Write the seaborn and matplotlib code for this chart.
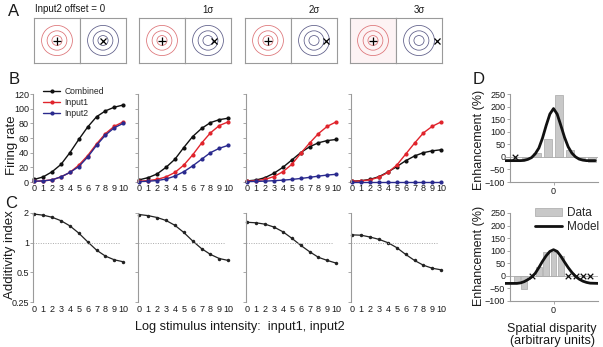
import numpy as np
import pandas as pd
import seaborn as sns
import matplotlib.pyplot as plt
from matplotlib.patches import Circle, Patch
from matplotlib.lines import Line2D
from matplotlib.ticker import NullLocator

# ---- data ----
intensity = list(range(11))
offsets = [0, 1, 2, 3]
offset_titles = ['Input2 offset = 0', '1σ', '2σ', '3σ']

# B: firing rate per offset
comb_0 = [3.5, 7, 14, 24, 40, 58, 75, 89, 97, 102, 105]
in1_0 = [1, 1.5, 3, 7, 13, 23, 36, 52, 66, 76, 82]
in2_0 = [1, 1.5, 3, 7, 13, 21, 34, 50, 64, 74, 80]

comb_1 = [3, 6, 11, 20, 31, 47, 62, 73, 81, 85, 87]
in1_1 = [1, 2, 3.5, 7, 13, 23, 37, 53, 67, 77, 82]
in2_1 = [0.5, 1, 2, 4, 8, 14, 22, 31, 40, 46, 50]

comb_2 = [1.5, 2.7, 6, 12, 20, 30, 40, 48, 53.5, 56.5, 58]
in1_2 = [1, 1.8, 3.5, 7.5, 14, 24, 39, 53, 66, 76, 82]
in2_2 = [0.5, 0.8, 1.2, 1.8, 2.5, 3.5, 4.8, 6.3, 8, 9.5, 10.5]

comb_3 = [1, 1.8, 3.6, 7.3, 13.6, 21, 29, 35.5, 40, 42.5, 44]
in1_3 = [1, 1.5, 3, 6.5, 13, 23, 38, 53, 67, 76, 82]
in2_3 = [0.5, 0.5, 0.5, 0.5, 0.5, 0.5, 0.5, 0.5, 0.5, 0.5, 0.5]

# C: additivity index per offset
add_0 = [1.95, 1.90, 1.81, 1.67, 1.48, 1.25, 1.02, 0.84, 0.73, 0.67, 0.64]
add_1 = [1.93, 1.88, 1.80, 1.68, 1.50, 1.27, 1.04, 0.87, 0.76, 0.69, 0.66]
add_2 = [1.61, 1.59, 1.54, 1.44, 1.29, 1.11, 0.94, 0.81, 0.71, 0.66, 0.62]
add_3 = [1.20, 1.19, 1.14, 1.08, 1.00, 0.89, 0.76, 0.66, 0.59, 0.55, 0.53]

# D: enhancement vs spatial disparity
top_bar_x = [-3.75, -2.25, -0.75, 0.75, 2.25, 3.75, 5.25]
top_bar_y = [-5, 17, 70, 245, 28, -6, -22]
top_xmark_x = [-5.25]
top_xmark_y = [0]
top_model_x = [-6.6, -5, -4.5, -4, -3.5, -3, -2.5, -2, -1.5, -1, -0.5, 0,
               0.5, 1, 1.5, 2, 2.5, 3, 3.5, 4, 4.5, 5, 5.7]
top_model_y = [-15, -15, -15, -14, -10, -3, 12, 35, 75, 125, 170, 192,
               170, 125, 78, 40, 15, 0, -9, -13, -15, -15, -15]

bot_bar_x = [-5, -4, -2, -1, 0, 1]
bot_bar_y = [-30, -52, 35, 93, 95, 78]
bot_xmark_x = [-3, 2, 3, 4, 5]
bot_xmark_y = [0, 0, 0, 0, 0]
bot_model_x = [-6.6, -5, -4.5, -4, -3.5, -3, -2.5, -2, -1.5, -1, -0.5, 0,
               0.5, 1, 1.5, 2, 2.5, 3, 3.5, 4, 4.5, 5, 6.1]
bot_model_y = [-30, -30, -28, -23, -15, -5, 10, 33, 58, 80, 97, 104,
               97, 78, 55, 33, 14, -2, -13, -21, -26, -29, -30]

comb_all = [comb_0, comb_1, comb_2, comb_3]
in1_all = [in1_0, in1_1, in1_2, in1_3]
in2_all = [in2_0, in2_1, in2_2, in2_3]
add_all = [add_0, add_1, add_2, add_3]

# ---- style ----
sns.set_style('ticks')
plt.rcParams['font.family'] = ['Liberation Sans', 'DejaVu Sans']

W, H = 603, 347
fig = plt.figure(figsize=(W / 100, H / 100), dpi=100)

def px_axes(left, top, width, height):
    return fig.add_axes([left / W, 1 - (top + height) / H, width / W, height / H])

def px_text(x, y, s, **kw):
    kw.setdefault('ha', 'center')
    kw.setdefault('va', 'center')
    fig.text(x / W, 1 - y / H, s, **kw)

GRAY = '#9a9a9a'
TXT = '#1a1a1a'
palette = {'Combined': '#111111', 'Input1': '#e0242c', 'Input2': '#2a2a8e'}
lefts = [33, 138, 246, 351]

# ---- A: receptive field schematics ----
ring_radii = [0.22, 0.43, 0.67]
sigma = 0.26
pair_left = [34, 139, 245, 350]
for k, off in enumerate(offsets):
    for j in range(2):
        ax = px_axes(pair_left[k] + 46 * j, 18, 46, 45)
        ax.set_xlim(-1, 1)
        ax.set_ylim(-1, 1)
        ax.set_xticks([])
        ax.set_yticks([])
        for s in ax.spines.values():
            s.set_color(GRAY)
            s.set_linewidth(0.8)
        if j == 0:
            if k == 3:
                ax.set_facecolor('#fdf3f4')
            for r in ring_radii:
                ax.add_patch(Circle((0, 0), r, fill=False, ec='#dc7074', lw=0.55))
            ax.plot(0, 0, marker='+', color='k', ms=6, mew=0.9)
        else:
            for r in ring_radii:
                ax.add_patch(Circle((0, 0), r, fill=False, ec='#5a5a86', lw=0.55))
            ax.plot(off * sigma, 0, marker='x', color='k', ms=4, mew=0.9)
    if k == 0:
        px_text(35, 9, offset_titles[k], ha='left', fontsize=7, color=TXT)
    else:
        px_text(pair_left[k] + 69, 10, offset_titles[k], fontsize=7, color=TXT)

# ---- B: firing rates ----
for k in range(4):
    ax = px_axes(lefts[k], 94, 92, 88)
    df = pd.DataFrame({
        'x': intensity * 3,
        'rate': comb_all[k] + in1_all[k] + in2_all[k],
        'series': ['Combined'] * 11 + ['Input1'] * 11 + ['Input2'] * 11,
    })
    sns.lineplot(data=df, x='x', y='rate', hue='series', palette=palette,
                 hue_order=['Combined', 'Input1', 'Input2'], marker='o',
                 markersize=3, markeredgewidth=0, linewidth=1, ax=ax,
                 legend=False, clip_on=False)
    ax.set_xlim(-0.15, 10.2)
    ax.set_ylim(0, 120)
    ax.set_xticks(intensity)
    ax.set_yticks(range(0, 121, 20))
    ax.set_xlabel('')
    ax.set_ylabel('')
    ax.tick_params(axis='x', length=0, labelsize=6.5, pad=1.5, colors=TXT)
    ax.tick_params(axis='y', length=2, width=0.6, color=GRAY, labelsize=6.5, pad=1,
                   labelcolor=TXT, labelleft=(k == 0))
    for side in ['top', 'right', 'bottom']:
        ax.spines[side].set_visible(False)
    ax.spines['left'].set_color(GRAY)
    ax.spines['left'].set_linewidth(0.8)
    if k == 0:
        handles = [Line2D([], [], color=palette[n], marker='o', ms=3, mew=0, lw=1)
                   for n in palette]
        ax.legend(handles, list(palette), loc='upper left', frameon=False,
                  fontsize=6.2, handlelength=2, handletextpad=0.5, labelspacing=0.25,
                  borderpad=0, borderaxespad=0,
                  bbox_to_anchor=(43 / W, 1 - 87 / H), bbox_transform=fig.transFigure)

# ---- C: additivity index ----
for k in range(4):
    ax = px_axes(lefts[k], 213, 92, 89)
    sns.lineplot(x=intensity, y=add_all[k], color='#222222', marker='o',
                 markersize=2.5, markeredgewidth=0, linewidth=0.9, ax=ax, clip_on=False)
    ax.set_yscale('log', base=2)
    ax.set_ylim(0.25, 2)
    ax.set_xlim(-0.15, 10.2)
    ax.axhline(1, xmin=0, xmax=0.95, color='#aaaaaa', ls=(0, (1, 1.5)), lw=0.7)
    ax.set_yticks([0.25, 0.5, 1, 2])
    ax.set_yticklabels(['0.25', '0.5', '1', '2'])
    ax.yaxis.set_minor_locator(NullLocator())
    ax.set_xticks(intensity)
    ax.tick_params(axis='x', length=0, labelsize=6.5, pad=2, colors=TXT)
    ax.tick_params(axis='y', length=2, width=0.6, color=GRAY, labelsize=6.5, pad=1,
                   labelcolor=TXT, labelleft=(k == 0))
    for side in ['top', 'right', 'bottom']:
        ax.spines[side].set_visible(False)
    ax.spines['left'].set_color(GRAY)
    ax.spines['left'].set_linewidth(0.8)

# ---- D: enhancement ----
def enh_panel(top, bx, by, mx, my, xx, xy):
    ax = px_axes(505, top, 93, 88)
    sns.barplot(x=bx, y=by, native_scale=True, color='#c8c8c8', edgecolor='#a8a8a8',
                linewidth=0.5, width=0.8, ax=ax, zorder=2)
    ax.axhline(0, color='#aaaaaa', lw=0.6, zorder=1)
    sns.lineplot(x=mx, y=my, color='#111111', linewidth=2, ax=ax, zorder=3)
    sns.scatterplot(x=xx, y=xy, marker='x', color='#111111', s=16, linewidth=0.9,
                    ax=ax, zorder=4)
    ax.set_xlim(-6.62, 6.07)
    ax.set_ylim(-100, 250)
    ax.set_yticks(range(-100, 251, 50))
    ax.set_xticks([0])
    ax.set_xticklabels(['0'])
    ax.set_xlabel('')
    ax.set_ylabel('')
    ax.spines['left'].set_position(('data', -5.93))
    ax.spines['bottom'].set_bounds(-5.93, 6.07)
    for side in ['top', 'right']:
        ax.spines[side].set_visible(False)
    for side in ['left', 'bottom']:
        ax.spines[side].set_color(GRAY)
        ax.spines[side].set_linewidth(0.8)
    ax.tick_params(axis='both', length=2, width=0.6, color=GRAY, labelsize=6.5,
                   pad=1.5, labelcolor=TXT)
    return ax

enh_panel(94, top_bar_x, top_bar_y, top_model_x, top_model_y, top_xmark_x, top_xmark_y)
axd = enh_panel(213, bot_bar_x, bot_bar_y, bot_model_x, bot_model_y, bot_xmark_x, bot_xmark_y)
axd.legend([Patch(fc='#c8c8c8', ec='#a8a8a8', lw=0.5), Line2D([], [], color='#111111', lw=2)],
           ['Data', 'Model'], loc='upper left', frameon=False, fontsize=8.5,
           handlelength=2.3, handletextpad=0.4, labelspacing=0.2, borderpad=0,
           borderaxespad=0, bbox_to_anchor=(535 / W, 1 - 207 / H),
           bbox_transform=fig.transFigure)

# ---- labels ----
px_text(14, 12, 'A', fontsize=12, color=TXT)
px_text(14, 79, 'B', fontsize=12, color=TXT)
px_text(11, 204, 'C', fontsize=12, color=TXT)
px_text(479, 80, 'D', fontsize=12, color=TXT)
px_text(12.5, 145, 'Firing rate', rotation=90, fontsize=9.5, color=TXT)
px_text(10, 255, 'Additivity index', rotation=90, fontsize=9.5, color=TXT)
px_text(479, 140, 'Enhancement (%)', rotation=90, fontsize=9, color=TXT)
px_text(479, 256, 'Enhancement (%)', rotation=90, fontsize=9, color=TXT)
px_text(240, 327, 'Log stimulus intensity:  input1, input2', fontsize=9.2, color=TXT)
px_text(552, 329, 'Spatial disparity', fontsize=9, color=TXT)
px_text(552, 341, '(arbitrary units)', fontsize=9, color=TXT)

fig.savefig('out.png', dpi=100)
